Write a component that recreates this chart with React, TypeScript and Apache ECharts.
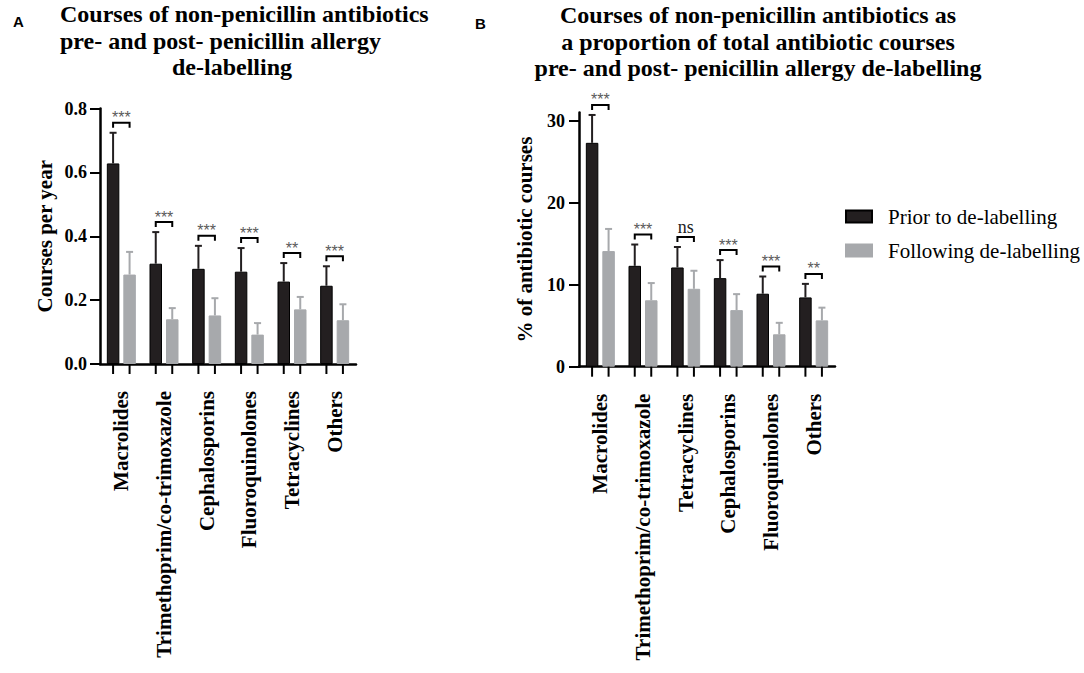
import React, { useEffect, useRef } from "react";
import * as echarts from "echarts";

// ---------- Data ----------
const categoriesA = [
  "Macrolides",
  "Trimethoprim/co-trimoxazole",
  "Cephalosporins",
  "Fluoroquinolones",
  "Tetracyclines",
  "Others",
];
const priorA = [0.628, 0.314, 0.298, 0.289, 0.258, 0.245];
const priorErrA = [0.096, 0.099, 0.072, 0.074, 0.058, 0.061];
const followA = [0.28, 0.14, 0.152, 0.092, 0.171, 0.137];
const followErrA = [0.071, 0.035, 0.054, 0.036, 0.039, 0.05];
const sigA = ["***", "***", "***", "***", "**", "***"];
const ticksA = [0, 0.2, 0.4, 0.6, 0.8];

const categoriesB = [
  "Macrolides",
  "Trimethoprim/co-trimoxazole",
  "Tetracyclines",
  "Cephalosporins",
  "Fluoroquinolones",
  "Others",
];
const priorB = [27.3, 12.3, 12.1, 10.8, 8.9, 8.45];
const priorErrB = [3.4, 2.6, 2.5, 2.2, 2.1, 1.65];
const followB = [14.1, 8.1, 9.5, 6.9, 3.95, 5.65];
const followErrB = [2.7, 2.1, 2.2, 1.95, 1.4, 1.55];
const sigB = ["***", "***", "ns", "***", "***", "**"];
const ticksB = [0, 10, 20, 30];

const seriesNames = ["Prior to de-labelling", "Following de-labelling"];

const titleALines = [
  "Courses of non-penicillin antibiotics",
  "pre- and post- penicillin allergy",
  "de-labelling",
];
const titleBLines = [
  "Courses of non-penicillin antibiotics as",
  "a proportion of total antibiotic courses",
  "pre- and post- penicillin allergy de-labelling",
];

// ---------- Styles ----------
const SERIF = "'Liberation Serif', 'Times New Roman', serif";
const SANS = "'Liberation Sans', Arial, sans-serif";
const DARK = "#231f20";
const GRAY = "#a7a9ac";
const BAR_W = 12.5;
const BAR_GAP = 4;
const OFF = (BAR_W + BAR_GAP) / 2;

function makeRenderer(sig: string[]) {
  return (params: any, api: any) => {
    const i = api.value(0);
    const bm = api.value(1);
    const be = api.value(2);
    const gm = api.value(3);
    const ge = api.value(4);
    const base = api.coord([i, 0]);
    const cx = base[0];
    const by0 = base[1];
    const xb = cx - OFF;
    const xg = cx + OFF;
    const yb = api.coord([i, bm])[1];
    const ybe = api.coord([i, bm + be])[1];
    const yg = api.coord([i, gm])[1];
    const yge = api.coord([i, gm + ge])[1];
    const top = Math.min(ybe, yge);
    const bracketY = top - 10;
    const label = sig[i];
    const isNs = label === "ns";
    const children: any[] = [
      { type: "line", shape: { x1: xb, y1: yb, x2: xb, y2: ybe }, style: { stroke: DARK, lineWidth: 2 } },
      { type: "line", shape: { x1: xb - 3.5, y1: ybe, x2: xb + 3.5, y2: ybe }, style: { stroke: DARK, lineWidth: 2 } },
      { type: "line", shape: { x1: xg, y1: yg, x2: xg, y2: yge }, style: { stroke: GRAY, lineWidth: 2 } },
      { type: "line", shape: { x1: xg - 3.5, y1: yge, x2: xg + 3.5, y2: yge }, style: { stroke: GRAY, lineWidth: 2 } },
      { type: "line", shape: { x1: xb, y1: by0, x2: xb, y2: by0 + 10 }, style: { stroke: "#000", lineWidth: 2 } },
      { type: "line", shape: { x1: xg, y1: by0, x2: xg, y2: by0 + 10 }, style: { stroke: "#000", lineWidth: 2 } },
      {
        type: "polyline",
        shape: { points: [[xb, bracketY + 5], [xb, bracketY], [xg, bracketY], [xg, bracketY + 5]] },
        style: { stroke: "#000", lineWidth: 2, fill: "none" },
      },
      {
        type: "text",
        x: cx,
        y: isNs ? bracketY - 1 : bracketY + 3,
        style: {
          text: label,
          align: "center",
          verticalAlign: "bottom",
          fontFamily: isNs ? SERIF : SANS,
          fontSize: isNs ? 18 : 16,
          fill: isNs ? "#222" : "#5a5a5a",
        },
      },
    ];
    return { type: "group", children };
  };
}

function buildCustomData(prior: number[], priorErr: number[], follow: number[], followErr: number[]) {
  return prior.map((v, i) => [i, v, priorErr[i], follow[i], followErr[i]]);
}

const axisLineStyle = { color: "#000", width: 2.5 };

function xAxisFor(cats: string[], gridIndex: number) {
  return {
    type: "category",
    gridIndex,
    data: cats,
    boundaryGap: true,
    axisLine: { show: true, lineStyle: axisLineStyle },
    axisTick: { show: false },
    axisLabel: {
      interval: 0,
      rotate: 90,
      margin: 27,
      fontFamily: SERIF,
      fontWeight: "bold",
      fontSize: 21,
      color: "#000",
    },
    splitLine: { show: false },
  };
}

export default function App() {
  const ref = useRef<HTMLDivElement>(null);

  useEffect(() => {
    if (!ref.current) return;
    const chart = echarts.init(ref.current, null, { renderer: "svg" });

    const titleTexts: any[] = [];
    const titleAX = [60, 60, 172];
    titleALines.forEach((t, k) => {
      titleTexts.push({
        type: "text",
        left: titleAX[k],
        top: 2 + k * 26.7,
        style: { text: t, fontFamily: SERIF, fontWeight: "bold", fontSize: 24, fill: "#000" },
      });
    });
    titleBLines.forEach((t, k) => {
      titleTexts.push({
        type: "text",
        x: 758,
        y: 15 + k * 26.7,
        style: {
          text: t,
          fontFamily: SERIF,
          fontWeight: "bold",
          fontSize: 24,
          fill: "#000",
          align: "center",
          verticalAlign: "middle",
        },
      });
    });

    const option: any = {
      animation: false,
      backgroundColor: "#fff",
      legend: {
        data: seriesNames,
        orient: "vertical",
        left: 840,
        top: 201,
        icon: "rect",
        itemWidth: 26,
        itemHeight: 12,
        itemGap: 13,
        selectedMode: false,
        textStyle: { fontFamily: SERIF, fontSize: 21, color: "#000", padding: [0, 0, 0, 11] },
      },
      grid: [
        { left: 100, top: 108.5, width: 256, height: 255.5 },
        { left: 579, top: 112.5, width: 256, height: 254.2 },
      ],
      xAxis: [xAxisFor(categoriesA, 0), xAxisFor(categoriesB, 1)],
      yAxis: [
        {
          type: "value",
          gridIndex: 0,
          min: 0,
          max: 0.8,
          interval: 0.2,
          axisLine: { show: true, lineStyle: axisLineStyle },
          axisTick: { show: true, length: 10, lineStyle: { color: "#000", width: 2 }, customValues: ticksA },
          axisLabel: {
            customValues: ticksA,
            margin: 13,
            fontFamily: SERIF,
            fontWeight: "bold",
            fontSize: 18,
            color: "#000",
            formatter: (v: number) => v.toFixed(1),
          },
          splitLine: { show: false },
          name: "Courses per year",
          nameLocation: "middle",
          nameGap: 45,
          nameTextStyle: { fontFamily: SERIF, fontWeight: "bold", fontSize: 21, color: "#000" },
        },
        {
          type: "value",
          gridIndex: 1,
          min: 0,
          max: 31,
          interval: 10,
          axisLine: { show: true, lineStyle: axisLineStyle },
          axisTick: { show: true, length: 10, lineStyle: { color: "#000", width: 2 }, customValues: ticksB },
          axisLabel: {
            customValues: ticksB,
            margin: 14,
            fontFamily: SERIF,
            fontWeight: "bold",
            fontSize: 18,
            color: "#000",
          },
          splitLine: { show: false },
          name: "% of antibiotic courses",
          nameLocation: "middle",
          nameGap: 44,
          nameTextStyle: { fontFamily: SERIF, fontWeight: "bold", fontSize: 21, color: "#000" },
        },
      ],
      series: [
        {
          name: seriesNames[0],
          type: "bar",
          xAxisIndex: 0,
          yAxisIndex: 0,
          data: priorA,
          barWidth: BAR_W,
          barGap: `${(BAR_GAP / BAR_W) * 100}%`,
          itemStyle: { color: DARK, borderColor: "#000", borderWidth: 1 },
        },
        {
          name: seriesNames[1],
          type: "bar",
          xAxisIndex: 0,
          yAxisIndex: 0,
          data: followA,
          barWidth: BAR_W,
          barGap: `${(BAR_GAP / BAR_W) * 100}%`,
          itemStyle: { color: GRAY, borderColor: GRAY, borderWidth: 1 },
        },
        {
          type: "custom",
          xAxisIndex: 0,
          yAxisIndex: 0,
          data: buildCustomData(priorA, priorErrA, followA, followErrA),
          encode: { x: 0, y: 1 },
          renderItem: makeRenderer(sigA),
          clip: false,
          silent: true,
          z: 5,
        },
        {
          name: seriesNames[0],
          type: "bar",
          xAxisIndex: 1,
          yAxisIndex: 1,
          data: priorB,
          barWidth: BAR_W,
          barGap: `${(BAR_GAP / BAR_W) * 100}%`,
          itemStyle: { color: DARK, borderColor: "#000", borderWidth: 1 },
        },
        {
          name: seriesNames[1],
          type: "bar",
          xAxisIndex: 1,
          yAxisIndex: 1,
          data: followB,
          barWidth: BAR_W,
          barGap: `${(BAR_GAP / BAR_W) * 100}%`,
          itemStyle: { color: GRAY, borderColor: GRAY, borderWidth: 1 },
        },
        {
          type: "custom",
          xAxisIndex: 1,
          yAxisIndex: 1,
          data: buildCustomData(priorB, priorErrB, followB, followErrB),
          encode: { x: 0, y: 1 },
          renderItem: makeRenderer(sigB),
          clip: false,
          silent: true,
          z: 5,
        },
      ],
      graphic: [
        {
          type: "text",
          left: 13,
          top: 14,
          style: { text: "A", fontFamily: SANS, fontWeight: "bold", fontSize: 15, fill: "#000" },
        },
        {
          type: "text",
          left: 475,
          top: 16,
          style: { text: "B", fontFamily: SANS, fontWeight: "bold", fontSize: 15, fill: "#000" },
        },
        ...titleTexts,
      ],
    };

    chart.setOption(option);
    return () => chart.dispose();
  }, []);

  return (
    <div
      ref={ref}
      style={{ position: "absolute", left: 0, top: 0, width: 1084, height: 673, background: "#fff" }}
    />
  );
}
